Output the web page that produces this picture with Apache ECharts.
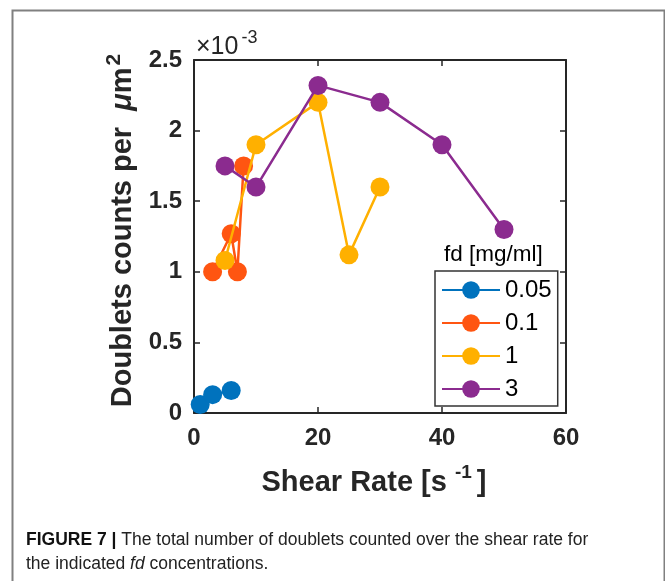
<!DOCTYPE html>
<html>
<head>
<meta charset="utf-8">
<script src="https://cdn.jsdelivr.net/npm/echarts@6/dist/echarts.min.js"></script>
<style>
html,body{margin:0;padding:0;background:#fff;}
#chart{width:665px;height:581px;}
</style>
</head>
<body>
<div id="chart"></div>
<script>
// ---- data (y values in units of 1e-3 per um^2) ----
const seriesNames = ['0.05', '0.1', '1', '3'];
const xBlue   = [1, 3, 6];
const yBlue   = [0.06, 0.13, 0.16];
const xOrange = [3, 6, 7, 8];
const yOrange = [1.0, 1.27, 1.0, 1.75];
const xYellow = [5, 10, 20, 25, 30];
const yYellow = [1.08, 1.9, 2.2, 1.12, 1.6];
const xPurple = [5, 10, 20, 30, 40, 50];
const yPurple = [1.75, 1.6, 2.32, 2.2, 1.9, 1.3];
const xTicks = [0, 20, 40, 60];
const yTicks = [0, 0.5, 1, 1.5, 2, 2.5];

const colors = ['#0072BD', '#FF5511', '#FFB000', '#8B2B8F'];
const FONT = 'Liberation Sans, Arial, sans-serif';
const AX = '#262626';

function pairs(xs, ys) { return xs.map((x, i) => [x, ys[i]]); }
const allData = [pairs(xBlue, yBlue), pairs(xOrange, yOrange), pairs(xYellow, yYellow), pairs(xPurple, yPurple)];

const chart = echarts.init(document.getElementById('chart'), null, {renderer: 'canvas'});

const axisCommon = {
  axisLine: {show: true, onZero: false, lineStyle: {color: AX, width: 2}},
  axisTick: {show: true, inside: true, length: 6, lineStyle: {color: AX, width: 1.5}},
  splitLine: {show: false}
};

const option = {
  backgroundColor: '#ffffff',
  animation: false,
  grid: {left: 194, top: 60, width: 372, height: 353, containLabel: false},
  xAxis: [
    Object.assign({
      type: 'value', position: 'bottom', min: xTicks[0], max: xTicks[xTicks.length - 1], interval: 20,
      axisLabel: {show: true, margin: 13, fontSize: 24, fontWeight: 'bold', color: AX, fontFamily: FONT},
      name: '{a|Shear Rate [s }{sup|-1}{a|]}',
      nameLocation: 'middle', nameGap: 50,
      nameTextStyle: {
        color: AX, fontFamily: FONT, padding: [0, 12, 0, 0],
        rich: {
          a: {fontSize: 29, fontWeight: 'bold', color: AX, fontFamily: FONT, lineHeight: 34, verticalAlign: 'bottom'},
          sup: {fontSize: 19, fontWeight: 'bold', color: AX, fontFamily: FONT, lineHeight: 34, verticalAlign: 'top', padding: [0, 5, 0, 0]}
        }
      }
    }, axisCommon),
    Object.assign({
      type: 'value', position: 'top', min: xTicks[0], max: xTicks[xTicks.length - 1], interval: 20,
      axisLabel: {show: false}
    }, axisCommon)
  ],
  yAxis: [
    Object.assign({
      type: 'value', position: 'left', min: yTicks[0], max: yTicks[yTicks.length - 1], interval: 0.5,
      axisLabel: {show: true, margin: 12, fontSize: 24, fontWeight: 'bold', color: AX, fontFamily: FONT},
      name: '{a|Doublets counts per  }{mu|μ}{a|m}{sup|2}',
      nameLocation: 'middle', nameGap: 56, nameRotate: 90,
      nameTextStyle: {
        color: AX, fontFamily: FONT, padding: [0, 0, 0, 12],
        rich: {
          a: {fontSize: 29, fontWeight: 'bold', color: AX, fontFamily: FONT, lineHeight: 34, verticalAlign: 'bottom'},
          mu: {fontSize: 29, fontWeight: 'bold', fontStyle: 'italic', color: AX, fontFamily: FONT, lineHeight: 34, verticalAlign: 'bottom'},
          sup: {fontSize: 21, fontWeight: 'bold', color: AX, fontFamily: FONT, lineHeight: 34, verticalAlign: 'top', padding: [0, 0, 0, 2]}
        }
      }
    }, axisCommon),
    Object.assign({
      type: 'value', position: 'right', min: yTicks[0], max: yTicks[yTicks.length - 1], interval: 0.5,
      axisLabel: {show: false}
    }, axisCommon)
  ],
  legend: {
    data: seriesNames,
    orient: 'vertical',
    left: 435, top: 271,
    padding: [7, 6, 5, 6],
    itemWidth: 58, itemHeight: 22, itemGap: 9, itemTextGap: 3,
    backgroundColor: '#ffffff',
    borderColor: '#333333', borderWidth: 1.5,
    textStyle: {fontSize: 24, color: '#000', fontFamily: FONT},
    selectedMode: false
  },
  series: seriesNames.map((name, i) => ({
    name: name,
    type: 'line',
    data: allData[i],
    symbol: 'circle',
    symbolSize: 19,
    showSymbol: true,
    color: colors[i],
    lineStyle: {width: 2.5, color: colors[i]},
    itemStyle: {color: colors[i]},
    z: 2 + i
  })),
  graphic: [
    {type: 'rect', left: 10, top: 8, shape: {width: 652, height: 580}, style: {fill: 'none', stroke: '#808080', lineWidth: 2}, silent: true, z: -1},
    {type: 'text', left: 196, top: 29, style: {
      text: '{a|×10}{s|-3}', fontFamily: FONT,
      rich: {
        a: {fontSize: 25, fill: AX, fontFamily: FONT, lineHeight: 31, verticalAlign: 'bottom'},
        s: {fontSize: 18, fill: AX, fontFamily: FONT, lineHeight: 31, verticalAlign: 'top', padding: [0, 0, 0, 3]}
      }}},
    {type: 'text', left: 444, top: 243, style: {text: 'fd [mg/ml]', fontSize: 22.5, fill: '#000', fontFamily: FONT}},
    {type: 'text', left: 26, top: 531, style: {
      text: '{b|FIGURE 7 |}{r| The total number of doublets counted over the shear rate for}', fontFamily: FONT,
      rich: {
        b: {fontSize: 17.5, fontWeight: 'bold', fill: '#111', fontFamily: FONT},
        r: {fontSize: 17.5, fill: '#222', fontFamily: FONT}
      }}},
    {type: 'text', left: 26, top: 555, style: {
      text: '{r|the indicated }{i|fd}{r| concentrations.}', fontFamily: FONT,
      rich: {
        i: {fontSize: 17.5, fontStyle: 'italic', fill: '#222', fontFamily: FONT},
        r: {fontSize: 17.5, fill: '#222', fontFamily: FONT}
      }}}
  ]
};
chart.setOption(option);
</script>
</body>
</html>
